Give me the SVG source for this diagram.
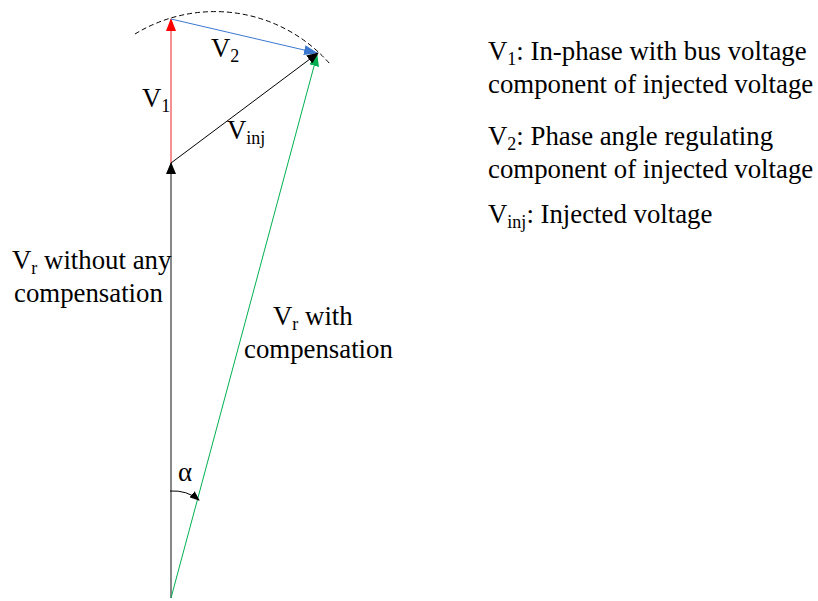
<svg xmlns="http://www.w3.org/2000/svg" width="818" height="601" viewBox="0 0 818 601">
<defs>
<marker id="ab" markerWidth="12" markerHeight="10" refX="11" refY="5" orient="auto" markerUnits="userSpaceOnUse"><path d="M0,0 L12,5 L0,10 z" fill="#000"/></marker>
<marker id="ar" markerWidth="13" markerHeight="10" refX="12" refY="5" orient="auto" markerUnits="userSpaceOnUse"><path d="M0,0 L13,5 L0,10 z" fill="#ff0000"/></marker>
<marker id="au" markerWidth="14" markerHeight="10" refX="13" refY="5" orient="auto" markerUnits="userSpaceOnUse"><path d="M0,0 L14,5 L0,10 z" fill="#3a78d0"/></marker>
<marker id="ag" markerWidth="12" markerHeight="10" refX="11" refY="5" orient="auto" markerUnits="userSpaceOnUse"><path d="M0,0 L12,5 L0,10 z" fill="#00b050"/></marker>
<marker id="as" markerWidth="10" markerHeight="8" refX="9" refY="4" orient="auto" markerUnits="userSpaceOnUse"><path d="M0,0 L10,4 L0,8 z" fill="#000"/></marker>
</defs>
<style>
.t{font-size:26.8px;fill:#000}
.sub{font-size:18px}
</style>
<g id="connectors" fill="none">
<path d="M135,34 A153,153 0 0 1 330,64" stroke="#000" stroke-width="1" stroke-dasharray="5,3"/>
<line x1="171" y1="598" x2="171" y2="163" stroke="#555" stroke-width="1.4" marker-end="url(#ab)"/>
<line x1="171" y1="163" x2="171" y2="19" stroke="#f26b6b" stroke-width="1.5" marker-end="url(#ar)"/>
<line x1="171" y1="19" x2="317" y2="53" stroke="#3a78d0" stroke-width="1" marker-end="url(#au)"/>
<line x1="171" y1="598" x2="317" y2="55" stroke="#00b050" stroke-width="1" marker-end="url(#ag)"/>
<line x1="171" y1="163" x2="318" y2="53" stroke="#000" stroke-width="1" marker-end="url(#ab)"/>
<path d="M170,491 Q187,490 199,500" stroke="#000" stroke-width="1" marker-end="url(#as)"/>
</g>
<g font-family="Liberation Serif, DejaVu Serif, serif">
<g id="labels">
<text class="t" x="211" y="57">V<tspan class="sub" dy="5">2</tspan></text>
<text class="t" x="142" y="107">V<tspan class="sub" dy="5">1</tspan></text>
<text class="t" x="227" y="139">V<tspan class="sub" dy="5">inj</tspan></text>
<text class="t" x="12" y="269">V<tspan class="sub" dy="5">r</tspan><tspan dy="-5"> without any</tspan></text>
<text class="t" x="14" y="302">compensation</text>
<text class="t" x="273" y="325">V<tspan class="sub" dy="5">r</tspan><tspan dy="-5">  with</tspan></text>
<text class="t" x="244" y="358">compensation</text>
<text class="t" x="178" y="481">α</text>
</g>
<g id="legend">
<text class="t" x="488" y="60">V<tspan class="sub" dy="5">1</tspan><tspan dy="-5">: In-phase with bus voltage</tspan></text>
<text class="t" x="488" y="93">component of injected voltage</text>
<text class="t" x="488" y="145">V<tspan class="sub" dy="5">2</tspan><tspan dy="-5">: Phase angle regulating</tspan></text>
<text class="t" x="488" y="178">component of injected voltage</text>
<text class="t" x="488" y="223">V<tspan class="sub" dy="5">inj</tspan><tspan dy="-5">: Injected voltage</tspan></text>
</g>
</g>
</svg>
